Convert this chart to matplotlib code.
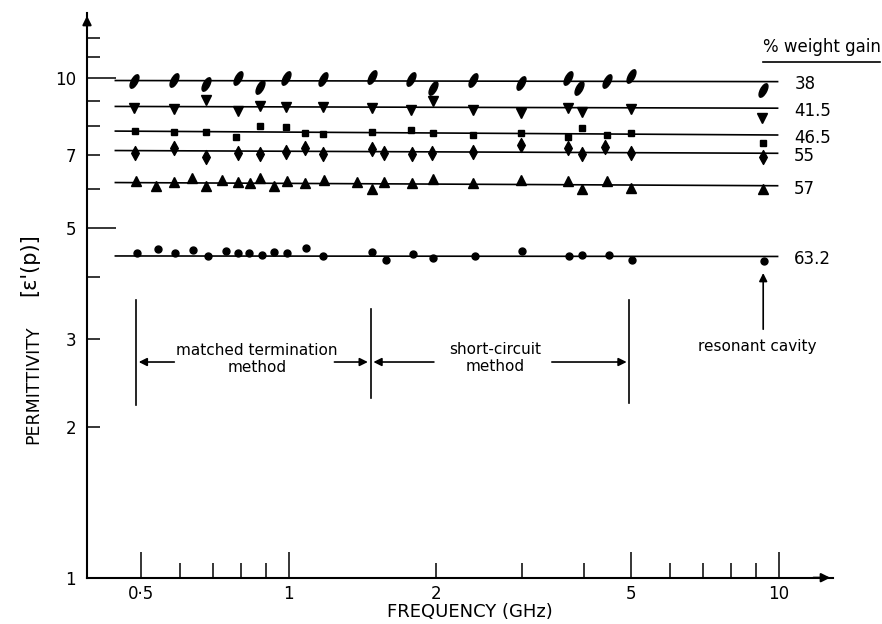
import matplotlib
matplotlib.use("Agg")
import matplotlib.pyplot as plt
from matplotlib.path import Path
from matplotlib.transforms import Affine2D
from matplotlib.lines import Line2D

# % weight gain labels of the six samples
gains = ["38", "41.5", "46.5", "55", "57", "63.2"]

# measured points (frequency in GHz, permittivity)
f_38 = [0.484, 0.583, 0.677, 0.787, 0.874, 0.986, 1.177, 1.481, 1.777, 1.967,
        2.381, 2.979, 3.71, 3.92, 4.46, 4.99, 9.30]
e_38 = [9.85, 9.89, 9.70, 9.97, 9.59, 9.97, 9.95, 10.05, 9.94, 9.52,
        9.89, 9.74, 9.97, 9.52, 9.85, 10.07, 9.44]

f_415 = [0.484, 0.583, 0.677, 0.787, 0.874, 0.986, 1.177, 1.481, 1.777, 1.967,
         2.381, 2.979, 3.71, 3.96, 4.99, 9.24]
e_415 = [8.71, 8.65, 9.03, 8.58, 8.79, 8.75, 8.75, 8.69, 8.62, 8.98,
         8.62, 8.49, 8.71, 8.53, 8.66, 8.32]

f_465 = [0.486, 0.583, 0.677, 0.78, 0.874, 0.986, 1.08, 1.177, 1.478, 1.777,
         1.967, 2.381, 2.98, 3.71, 3.96, 4.46, 4.99, 9.30]
e_465 = [7.83, 7.78, 7.78, 7.62, 8.02, 7.96, 7.74, 7.72, 7.80, 7.86,
         7.74, 7.69, 7.76, 7.62, 7.94, 7.69, 7.74, 7.39]

f_55 = [0.486, 0.583, 0.677, 0.787, 0.874, 0.986, 1.08, 1.177, 1.478, 1.567,
        1.783, 1.966, 2.381, 2.98, 3.71, 3.96, 4.43, 4.99, 9.30]
e_55 = [7.06, 7.23, 6.95, 7.06, 7.03, 7.09, 7.24, 7.03, 7.20, 7.06,
        7.03, 7.06, 7.09, 7.33, 7.23, 7.03, 7.28, 7.06, 6.95]

f_57 = [0.487, 0.535, 0.584, 0.636, 0.677, 0.732, 0.789, 0.834, 0.874, 0.935,
        0.991, 1.08, 1.181, 1.377, 1.478, 1.567, 1.788, 1.973, 2.381, 2.98,
        3.72, 3.96, 4.46, 4.99, 9.30]
e_57 = [6.21, 6.08, 6.18, 6.31, 6.08, 6.24, 6.18, 6.15, 6.29, 6.08,
        6.21, 6.15, 6.24, 6.19, 5.99, 6.19, 6.15, 6.26, 6.15, 6.24,
        6.21, 5.99, 6.21, 6.01, 5.99]

f_632 = [0.490, 0.540, 0.586, 0.639, 0.684, 0.744, 0.787, 0.83, 0.881, 0.935,
         0.991, 1.083, 1.177, 1.478, 1.577, 1.796, 1.973, 2.40, 3.0, 3.73,
         3.97, 4.50, 5.01, 9.33]
e_632 = [4.46, 4.54, 4.46, 4.52, 4.39, 4.50, 4.46, 4.46, 4.41, 4.49,
         4.46, 4.56, 4.39, 4.48, 4.32, 4.44, 4.36, 4.39, 4.50, 4.39,
         4.41, 4.42, 4.32, 4.29]

# fitted lines: frequency range and value at each end
line_f = [0.443, 9.95]
line_start = [9.87, 8.76, 7.82, 7.15, 6.17, 4.40]
line_end = [9.82, 8.69, 7.68, 7.06, 6.08, 4.39]

# measurement method ranges (GHz) and the resonant cavity frequency
method_edges = [0.488, 1.47, 4.96]
cavity_f = 9.3

ellipse = Path.unit_circle().transformed(Affine2D().scale(0.42, 1.0).rotate_deg(-28))
thin_diamond = Path([(0, -1), (0.55, 0), (0, 1), (-0.55, 0), (0, -1)], closed=True)
markers = [(ellipse, 10), ("v", 6.5), ("s", 5), (thin_diamond, 10), ("^", 6.5), ("o", 5)]
freqs = [f_38, f_415, f_465, f_55, f_57, f_632]
perms = [e_38, e_415, e_465, e_55, e_57, e_632]

fig = plt.figure(figsize=(8.82, 6.24), dpi=100)
ax = fig.add_axes([87 / 882, 46.3 / 624, 746 / 882, 564.7 / 624])
ax.set_xscale("log")
ax.set_yscale("log")
ax.set_xlim(0.3877, 12.91)
ax.set_ylim(1, 13.47)

for f, e, (m, ms), ls, le, g in zip(freqs, perms, markers, line_start, line_end, gains):
    ax.plot(line_f, [ls, le], color="k", lw=1.2)
    ax.plot(f, e, linestyle="none", marker=m, ms=ms, color="k")
    ax.annotate(g, xy=(line_f[1], le), xytext=(12, -2), textcoords="offset points",
                ha="left", va="center", fontsize=12)

# axes styling
for s in ["top", "right"]:
    ax.spines[s].set_visible(False)
for s in ["left", "bottom"]:
    ax.spines[s].set_linewidth(1.5)
ax.annotate("", xy=(1, 0), xytext=(0.97, 0), xycoords="axes fraction",
            arrowprops=dict(arrowstyle="-|>", color="k", lw=1.5, mutation_scale=13))
ax.annotate("", xy=(0, 1), xytext=(0, 0.97), xycoords="axes fraction",
            arrowprops=dict(arrowstyle="-|>", color="k", lw=1.5, mutation_scale=13))

ax.set_xticks([0.5, 1, 5, 10], ["0·5", "1", "5", "10"])
ax.set_xticks([0.6, 0.7, 0.8, 0.9, 2, 3, 4, 6, 7, 8, 9],
              ["", "", "", "", "2", "", "", "", "", "", ""], minor=True)
ax.set_yticks([1, 5, 10], ["1", "5", "10"])
ax.set_yticks([2, 3, 4, 6, 7, 8, 9, 11, 12],
              ["2", "3", "", "", "7", "", "", "", ""], minor=True)
ax.tick_params(axis="x", which="major", direction="in", length=19, width=1.1, labelsize=12, pad=5)
ax.tick_params(axis="x", which="minor", direction="in", length=11, width=1.1, labelsize=12, pad=5)
ax.tick_params(axis="y", which="major", direction="in", length=21, width=1.1, labelsize=12, pad=8)
ax.tick_params(axis="y", which="minor", direction="in", length=9.5, width=1.1, labelsize=12, pad=8)

# method annotations
for x, (y0, y1) in zip(method_edges, [(2.215, 3.59), (2.288, 3.45), (2.236, 3.59)]):
    ax.plot([x, x], [y0, y1], color="k", lw=1.2)
arrow = dict(arrowstyle="-|>", color="k", lw=1.2, mutation_scale=12)
ax.annotate("", xy=(method_edges[0], 2.70), xytext=(0.592, 2.70), arrowprops=arrow)
ax.annotate("", xy=(method_edges[1], 2.70), xytext=(1.224, 2.70), arrowprops=arrow)
ax.annotate("", xy=(method_edges[1], 2.70), xytext=(2.005, 2.70), arrowprops=arrow)
ax.annotate("", xy=(method_edges[2], 2.70), xytext=(3.40, 2.70), arrowprops=arrow)
ax.annotate("", xy=(cavity_f, 4.12), xytext=(cavity_f, 3.10), arrowprops=arrow)
ax.text(0.862, 2.738, "matched termination\nmethod", ha="center", va="center",
        fontsize=11, linespacing=1.15)
ax.text(2.637, 2.75, "short-circuit\nmethod", ha="center", va="center",
        fontsize=11, linespacing=1.15)
ax.text(9.03, 2.897, "resonant cavity", ha="center", va="center", fontsize=11)

ax.text(9.29, 11.52, "% weight gain", ha="left", va="center", fontsize=12, clip_on=False)
fig.add_artist(Line2D([763 / 882, 880 / 882], [1 - 62 / 624] * 2,
                      transform=fig.transFigure, color="k", lw=1.2))

fig.text(470 / 882, 1 - 612 / 624, "FREQUENCY (GHz)", ha="center", va="center", fontsize=13)
fig.text(33 / 882, 1 - 385 / 624, "PERMITTIVITY", rotation=90, ha="center", va="center", fontsize=12.5)
fig.text(29 / 882, 1 - 265 / 624, "[ε'(p)]", rotation=90, ha="center", va="center", fontsize=15)

fig.savefig("out.png", dpi=100, facecolor="white")
